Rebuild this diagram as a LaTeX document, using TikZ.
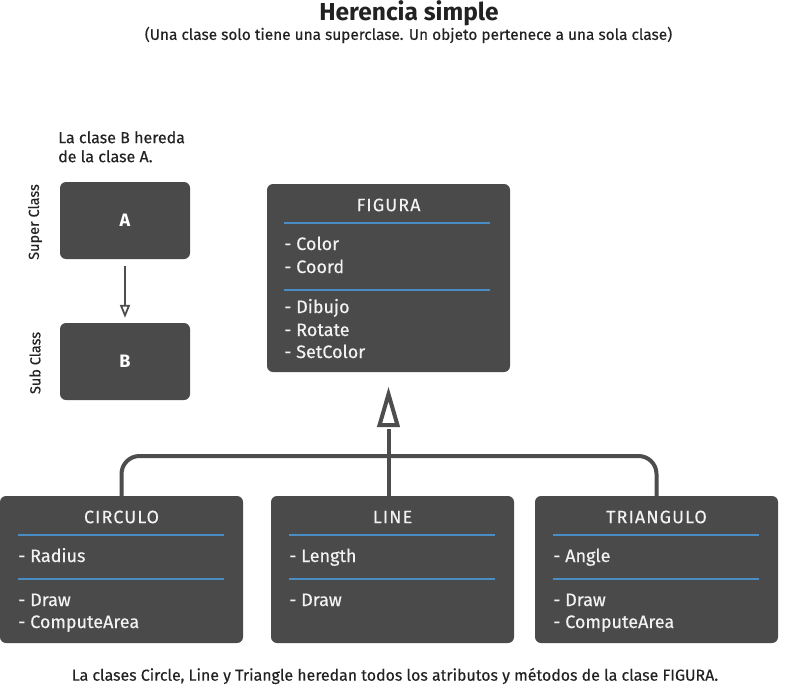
\documentclass[tikz,border=0pt]{standalone}
\usepackage{fontspec}
\setmainfont{Fira Sans}
\newfontfamily\medfont{Fira Sans}[FakeBold=0.35]
\newfontfamily\ttlfont{Fira Sans}[FakeBold=0.2, LetterSpace=6]
\usetikzlibrary{arrows.meta,calc}
\definecolor{boxgray}{HTML}{4A4A4A}
\definecolor{linegray}{HTML}{4D4D4D}
\definecolor{sepblue}{HTML}{4A8CC4}
\definecolor{txtdark}{HTML}{222222}
\definecolor{boxtxt}{HTML}{F2F2F2}
\tikzset{
  box/.style={fill=boxgray, rounded corners=6pt, draw=none, inner sep=0pt},
  ctitle/.style={text=boxtxt, font=\ttlfont\fontsize{18}{18}\selectfont, inner sep=0pt, anchor=center},
  item/.style={text=boxtxt, font=\medfont\fontsize{18}{18}\selectfont, inner sep=0pt, anchor=base west},
  sep/.style={draw=sepblue, line width=2.2pt},
  outtxt/.style={text=txtdark, inner sep=0pt},
  bigline/.style={draw=linegray, line width=4pt},
}
\begin{document}
\begin{tikzpicture}[x=1pt,y=-1pt]
\useasboundingbox (0,0) rectangle (786,698);
% titles
\node[text=txtdark, font=\fontsize{24.5}{24.5}\selectfont\bfseries, inner sep=0pt] (title) at (409,13) {Herencia simple};
\node[outtxt, font=\medfont\fontsize{15.4}{15.4}\selectfont] (subtitle) at (408.5,35) {(Una clase solo tiene una superclase. Un objeto pertenece a una sola clase)};
% left example
\node[outtxt, font=\medfont\fontsize{16}{19}\selectfont, anchor=north west, align=left] (note) at (58,131) {La clase B hereda\\de la clase A.};
\node[box, minimum width=130pt, minimum height=77pt] (A) at (125,220.5) {};
\node[text=white, font=\fontsize{18}{18}\selectfont\bfseries, inner sep=0pt] (Alab) at (A.center) {A};
\node[box, minimum width=130pt, minimum height=77pt] (B) at (125,361.5) {};
\node[text=white, font=\fontsize{18}{18}\selectfont\bfseries, inner sep=0pt] (Blab) at (B.center) {B};
\node[text=txtdark, font=\medfont\fontsize{14.5}{14.5}\selectfont, rotate=90, inner sep=0pt] (sup) at (35,222) {Super Class};
\node[text=txtdark, font=\medfont\fontsize{14.5}{14.5}\selectfont, rotate=90, inner sep=0pt] (sub) at (35,363) {Sub Class};
\draw[draw=linegray, line width=1.8pt, -{Triangle[open, length=13pt, width=10pt, line width=1.8pt]}, shorten <=7pt, shorten >=5pt] (A.south) -- (B.north);
% FIGURA
\node[box, minimum width=243pt, minimum height=188pt] (fig) at (388.5,278) {};
\node[ctitle] (figt) at (388.5,205) {FIGURA};
\draw[sep] (284,223) -- (490,223);
\node[item] (f1) at (284,250) {- Color};
\node[item] (f2) at (284,273) {- Coord};
\draw[sep] (284,290) -- (490,290);
\node[item] (f3) at (284,313) {- Dibujo};
\node[item] (f4) at (284,336) {- Rotate};
\node[item] (f5) at (284,358) {- SetColor};
% CIRCULO
\node[box, minimum width=243pt, minimum height=147pt] (circ) at (121.5,569.5) {};
\node[ctitle] (circt) at (121.5,517) {CIRCULO};
\draw[sep] (18,535) -- (224,535);
\node[item] (c1) at (18,562) {- Radius};
\draw[sep] (18,579) -- (224,579);
\node[item] (c2) at (18,606) {- Draw};
\node[item] (c3) at (18,628) {- ComputeArea};
% LINE
\node[box, minimum width=243pt, minimum height=147pt] (line) at (392.5,569.5) {};
\node[ctitle] (linet) at (392.5,517) {LINE};
\draw[sep] (289,535) -- (495,535);
\node[item] (l1) at (289,562) {- Length};
\draw[sep] (289,579) -- (495,579);
\node[item] (l2) at (289,606) {- Draw};
% TRIANGULO
\node[box, minimum width=243pt, minimum height=147pt] (tri) at (656.5,569.5) {};
\node[ctitle] (trit) at (656.5,517) {TRIANGULO};
\draw[sep] (553,535) -- (759,535);
\node[item] (t1) at (553,562) {- Angle};
\draw[sep] (553,579) -- (759,579);
\node[item] (t2) at (553,606) {- Draw};
\node[item] (t3) at (553,628) {- ComputeArea};
% connectors
\coordinate (junc) at (389,456);
\draw[bigline, rounded corners=18pt] (circ.north) |- (junc) -| (tri.north);
\draw[bigline] (fig.south |- line.north) -- ($(fig.south)+(0,57)$);
\draw[bigline, line join=miter] ($(fig.south)+(0,22)$) -- ++(-9,31) -- ++(18,0) -- cycle;
% bottom
\node[outtxt, font=\medfont\fontsize{15.9}{15.9}\selectfont] (bottom) at (395,676) {La clases Circle, Line y Triangle heredan todos los atributos y métodos de la clase FIGURA.};
\end{tikzpicture}
\end{document}
